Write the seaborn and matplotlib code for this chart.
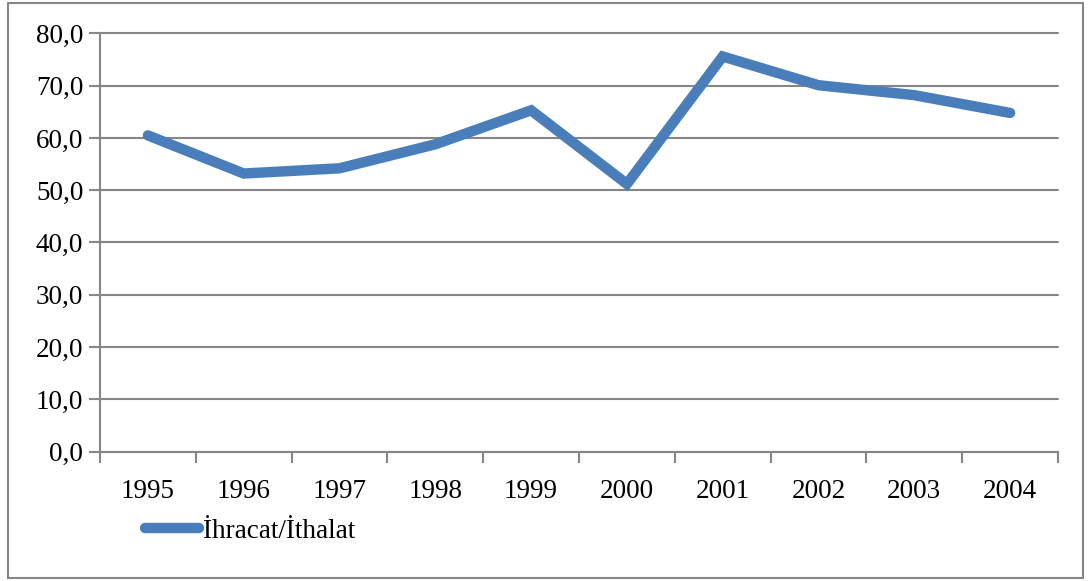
import matplotlib
matplotlib.use("Agg")
import matplotlib.pyplot as plt
from matplotlib.patches import Rectangle
import numpy as np
import pandas as pd
import seaborn as sns

# Data
years = ["1995", "1996", "1997", "1998", "1999", "2000", "2001", "2002", "2003", "2004"]
ratio = [60.5, 53.2, 54.2, 58.8, 65.3, 51.2, 75.6, 70.1, 68.2, 64.8]
series_name = "İhracat/İthalat"

df = pd.DataFrame({"year": years, "value": ratio})

sns.set_style("white")
plt.rcParams["font.family"] = ["Liberation Serif", "DejaVu Serif"]
plt.rcParams["text.color"] = "black"
plt.rcParams["xtick.color"] = "#868686"
plt.rcParams["ytick.color"] = "#868686"
plt.rcParams["xtick.labelcolor"] = "black"
plt.rcParams["ytick.labelcolor"] = "black"

fig = plt.figure(figsize=(10.9, 5.81), dpi=100)
ax = fig.add_axes([100 / 1090, 1 - 451.5 / 581, 958 / 1090, 418 / 581])

sns.lineplot(data=df, x="year", y="value", ax=ax, color="#4a7ebb",
             linewidth=7.5, solid_capstyle="round", solid_joinstyle="miter",
             label=series_name, legend=False)

# Axes and grid
ax.set_ylim(0, 80)
ax.set_xlim(-0.5, len(years) - 0.5)
ax.set_yticks(np.arange(0, 81, 10))
ax.set_yticklabels([f"{v:.1f}".replace(".", ",") for v in np.arange(0, 81, 10)])
ax.set_xticks(range(len(years)))
ax.set_xticklabels(years)
ax.set_xticks(np.arange(-0.5, len(years), 1), minor=True)
ax.tick_params(axis="x", which="major", bottom=True, length=0, pad=20, labelsize=19.5)
ax.tick_params(axis="x", which="minor", bottom=True, length=8, width=1.5, direction="out")
ax.tick_params(axis="y", left=True, length=8, width=1.5, direction="out", pad=4, labelsize=19.5)
ax.yaxis.grid(True, color="#868686", linewidth=1.5)
for gl in ax.get_ygridlines():
    gl.set_clip_on(False)
ax.set_axisbelow(True)
for side in ["top", "right"]:
    ax.spines[side].set_visible(False)
for side in ["left", "bottom"]:
    ax.spines[side].set_color("#868686")
    ax.spines[side].set_linewidth(1.5)
ax.set_xlabel("")
ax.set_ylabel("")

# Legend below the plot
leg = fig.legend(loc="upper left", bbox_to_anchor=(134 / 1090, 1 - 508 / 581),
                 frameon=False, fontsize=19.5, handlelength=2.0, handletextpad=0.15,
                 borderaxespad=0)
for h in leg.get_lines():
    h.set_solid_capstyle("round")

# Outer chart border
fig.patches.append(Rectangle((8 / 1090, 3 / 581), 1075 / 1090, 575 / 581,
                             transform=fig.transFigure, fill=False,
                             edgecolor="#868686", linewidth=1.5))

fig.savefig("out.png", dpi=100)
